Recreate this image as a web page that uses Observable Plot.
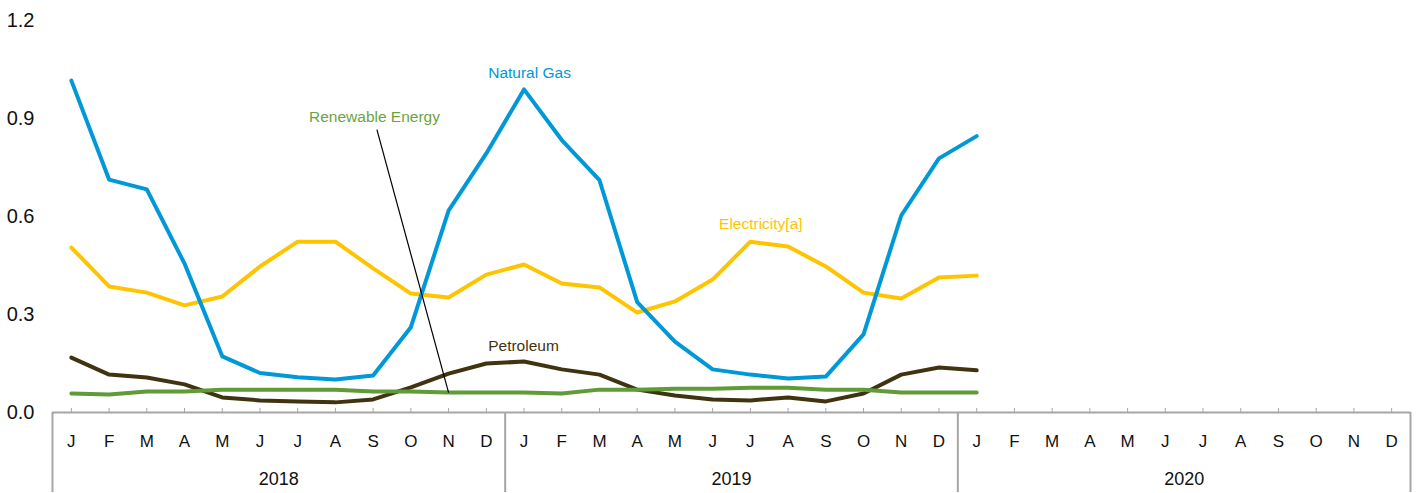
<!DOCTYPE html>
<html><head><meta charset="utf-8">
<script src="https://cdn.jsdelivr.net/npm/d3@7"></script>
<script src="https://cdn.jsdelivr.net/npm/@observablehq/plot@0.6"></script>
<style>
body{margin:0;background:#fff;}
svg{font-family:"Liberation Sans",Arial,sans-serif;}
</style>
</head><body><div id="chart"></div>
<script>
const monthLetters = ["J","F","M","A","M","J","J","A","S","O","N","D"];
const years = ["2018","2019","2020"];
const yTicks = [0, 0.3, 0.6, 0.9, 1.2];
const seriesNames = ["Petroleum","Renewable Energy","Electricity[a]","Natural Gas"];
const seriesColors = ["#3f3310","#5f9b36","#ffc400","#0098d8"];

// Jan 2018 .. Jan 2020
const naturalGas = [1.016,0.713,0.683,0.456,0.172,0.121,0.108,0.101,0.113,0.261,0.618,0.793,
                    0.989,0.834,0.711,0.338,0.217,0.132,0.116,0.104,0.110,0.239,0.603,0.778,0.846];
const electricity = [0.505,0.386,0.367,0.328,0.355,0.447,0.523,0.523,0.441,0.364,0.352,0.422,
                     0.453,0.395,0.383,0.306,0.340,0.407,0.523,0.508,0.447,0.367,0.349,0.413,0.419];
const petroleum = [0.168,0.116,0.107,0.086,0.046,0.037,0.034,0.031,0.040,0.077,0.119,0.150,
                   0.156,0.132,0.116,0.070,0.052,0.040,0.037,0.046,0.034,0.058,0.116,0.138,0.129];
const renewable = [0.058,0.055,0.064,0.064,0.070,0.070,0.070,0.070,0.064,0.064,0.061,0.061,
                   0.061,0.058,0.070,0.070,0.073,0.073,0.076,0.076,0.070,0.070,0.061,0.061,0.061];

const months = [];
years.forEach((yr, yi) => monthLetters.forEach((m, mi) => months.push({i: yi*12+mi, label: m, year: yr})));
const yearMid = years.map((yr, yi) => ({year: yr, i: yi*12 + 5.5}));
const bounds = d3.range(years.length + 1).map(k => k*12 - 0.5);

const valuesBySeries = {"Petroleum": petroleum, "Renewable Energy": renewable, "Electricity[a]": electricity, "Natural Gas": naturalGas};
const rows = seriesNames.flatMap(s => valuesBySeries[s].map((v, i) => ({series: s, i, value: v})));

const axisGray = "#a6a6a6";

const chart = Plot.plot({
  width: 1421, height: 493,
  marginLeft: 52, marginRight: 11, marginTop: 20, marginBottom: 81,
  x: {domain: [-0.5, 35.5], axis: null},
  y: {domain: [0, 1.2], axis: null},
  color: {domain: seriesNames, range: seriesColors},
  marks: [
    Plot.axisY({ticks: yTicks, tickFormat: d3.format(".1f"), tickSize: 0, tickPadding: 18, fontSize: 20, fill: "#111", label: null}),
    // month ticks (pointing up)
    Plot.ruleX(months, {x: "i", y1: 0, y2: 0.0125, stroke: axisGray, strokeWidth: 1}),
    // baseline axis
    Plot.ruleY([0], {x1: -0.5, x2: 35.5, stroke: axisGray, strokeWidth: 2}),
    // year separators
    Plot.ruleX(bounds, {x: d => d, y1: 0, y2: -0.245, stroke: axisGray, strokeWidth: 2}),
    Plot.text(months, {x: "i", y: 0, dy: 29, text: "label", fontSize: 17, fill: "#111"}),
    Plot.text(yearMid, {x: "i", y: 0, dy: 67, text: "year", fontSize: 18, fill: "#111"}),
    Plot.line(rows, {x: "i", y: "value", z: "series", stroke: "series", strokeWidth: 4, strokeLinejoin: "round"}),
    // leader line for Renewable Energy
    Plot.link([{x1: 8.1, y1: 0.866, x2: 10, y2: renewable[10]}], {x1: "x1", y1: "y1", x2: "x2", y2: "y2", stroke: "#000", strokeWidth: 1.2}),
    Plot.text(["Natural Gas"], {x: 11.05, y: 1.04, text: d => d, textAnchor: "start", fontSize: 15.5, fill: "#0098d8"}),
    Plot.text(["Renewable Energy"], {x: 6.3, y: 0.906, text: d => d, textAnchor: "start", fontSize: 15.5, fill: "#6aa443"}),
    Plot.text(["Electricity[a]"], {x: 17.17, y: 0.578, text: d => d, textAnchor: "start", fontSize: 15.5, fill: "#ffc400"}),
    Plot.text(["Petroleum"], {x: 11.05, y: 0.202, text: d => d, textAnchor: "start", fontSize: 15.5, fill: "#3f3310"})
  ]
});
document.getElementById("chart").append(chart);
</script>
</body></html>
